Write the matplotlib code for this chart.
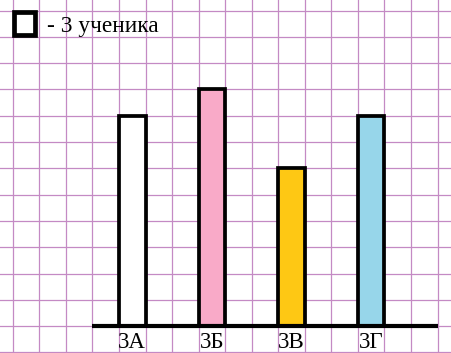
import matplotlib
matplotlib.use("Agg")
import matplotlib.pyplot as plt
from matplotlib.patches import Rectangle

# Data
classes = ["3А", "3Б", "3В", "3Г"]
students = [24, 27, 18, 24]          # number of students
per_cell = 3                          # one square = 3 students
bar_colors = ["#ffffff", "#f9aac8", "#fec814", "#97d6ea"]
legend_text = "- 3 ученика"
bar_left_cells = [4, 7, 10, 13]

W, H, DPI = 452, 353, 100
fig = plt.figure(figsize=(W / DPI, H / DPI), dpi=DPI)
ax = fig.add_axes([0, 0, 1, 1])

cell_w = 26.55   # px
cell_h = 26.3    # px
x0_px = 12.75    # px of first vertical grid line
base_px = 326.1  # px of baseline from top

ax.set_xlim(-x0_px / cell_w, (W - x0_px) / cell_w)
ax.set_ylim(-(H - base_px) / cell_h * per_cell, base_px / cell_h * per_cell)
ax.axis("off")

grid_c = "#c48ac4"
for i in range(0, 17):
    ax.axvline(i, color=grid_c, lw=0.9, zorder=1)
for j in range(-1, 13):
    ax.axhline(j * per_cell, color=grid_c, lw=0.9, zorder=1)

# bars
for left, val, col in zip(bar_left_cells, students, bar_colors):
    ax.bar(left + 0.5, val, width=1.0, color=col, edgecolor="black",
           linewidth=2.7, zorder=3)

# baseline
ax.plot([3, 16], [0, 0], color="black", lw=3.0, zorder=4, solid_capstyle="butt")

# labels
for left, name in zip(bar_left_cells, classes):
    ax.text(left + 0.5, -2.5, name, ha="center", va="baseline",
            fontsize=16.5, family="Liberation Serif", zorder=5)

# legend square
ax.add_patch(Rectangle((0.04, 11.08 * per_cell), 0.8, 0.88 * per_cell,
                       facecolor="white", edgecolor="black", lw=3.4, zorder=5))
ax.text(1.28, (base_px - 31.5) / cell_h * per_cell, legend_text,
        ha="left", va="baseline", fontsize=16.8, family="Liberation Serif", zorder=5)

fig.savefig("out.png", dpi=DPI)
